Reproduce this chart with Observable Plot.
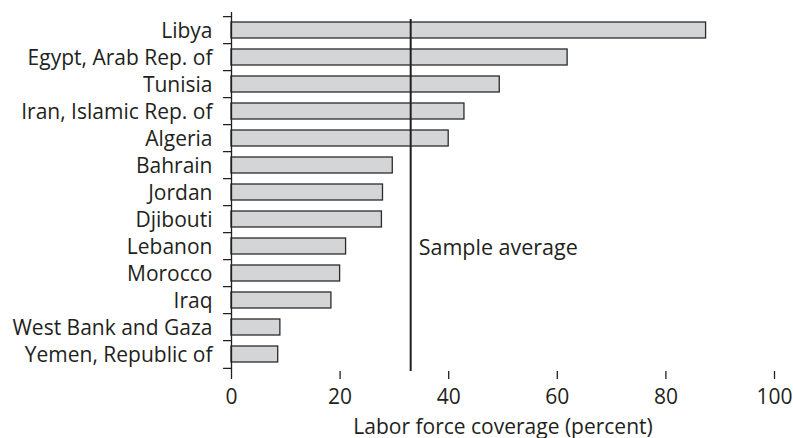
<!DOCTYPE html>
<html><head><meta charset="utf-8">
<script src="https://cdn.jsdelivr.net/npm/d3@7"></script>
<script src="https://cdn.jsdelivr.net/npm/@observablehq/plot@0.6"></script>
<style>body{margin:0;background:#fff}</style>
</head><body><div id="chart"></div>
<script>
const countries = ["Libya","Egypt, Arab Rep. of","Tunisia","Iran, Islamic Rep. of","Algeria","Bahrain","Jordan","Djibouti","Lebanon","Morocco","Iraq","West Bank and Gaza","Yemen, Republic of"];
const coverage = [87.4, 61.9, 49.4, 42.9, 40.0, 29.7, 27.9, 27.7, 21.1, 20.0, 18.4, 9.0, 8.6];
const sampleAverage = 33;
const xTicks = [0, 20, 40, 60, 80, 100];
const xLabel = "Labor force coverage (percent)";
const avgLabel = "Sample average";
const avgLabelRow = "Lebanon";

const data = countries.map((c, i) => ({country: c, value: coverage[i]}));
const avgNote = [{label: avgLabel, x: sampleAverage, row: avgLabelRow}];
const W = 793, H = 438, mt = 12, mb = 67, ml = 231, mr = 19;
const step = (H - mt - mb) / countries.length;
const ink = "#231f20";
const tickShape = {draw(ctx, l) { ctx.moveTo(0, 0); ctx.lineTo(0, -l); }};

const chart = Plot.plot({
  width: W, height: H,
  marginTop: mt, marginBottom: mb, marginLeft: ml, marginRight: mr,
  style: {fontFamily: "'Open Sans', sans-serif", fontSize: "21px", color: ink, background: "#fff"},
  x: {domain: [0, 100]},
  y: {domain: countries, paddingInner: 0.42, paddingOuter: 0.21},
  marks: [
    Plot.barX(data, {x: "value", y: "country", fill: "#d4d5d7", stroke: "#2b2b2b", strokeWidth: 1.3}),
    Plot.ruleX([sampleAverage], {stroke: ink, strokeWidth: 2, insetTop: 7}),
    Plot.text(avgNote, {x: "x", y: "row", text: "label", textAnchor: "start", dx: 8, dy: 2, fontSize: 21.5, fill: ink}),
    Plot.ruleX([0], {stroke: ink, strokeWidth: 1.3}),
    Plot.axisX({ticks: xTicks, tickSize: 8, tickPadding: 10, line: true, label: xLabel, labelAnchor: "center", labelArrow: "none", labelOffset: 62, stroke: ink, strokeWidth: 1.3}),
    Plot.axisY({tickSize: 0, tickPadding: 19, label: null, dy: 1}),
    Plot.vector(countries, {x: 0, y: d => d, length: 8, rotate: -90, anchor: "start", shape: tickShape, dy: -step / 2, stroke: ink, strokeWidth: 1.3}),
    Plot.vector([countries[countries.length - 1]], {x: 0, y: d => d, length: 8, rotate: -90, anchor: "start", shape: tickShape, dy: step / 2, stroke: ink, strokeWidth: 1.3})
  ]
});
document.getElementById("chart").append(chart);
</script>
</body></html>
